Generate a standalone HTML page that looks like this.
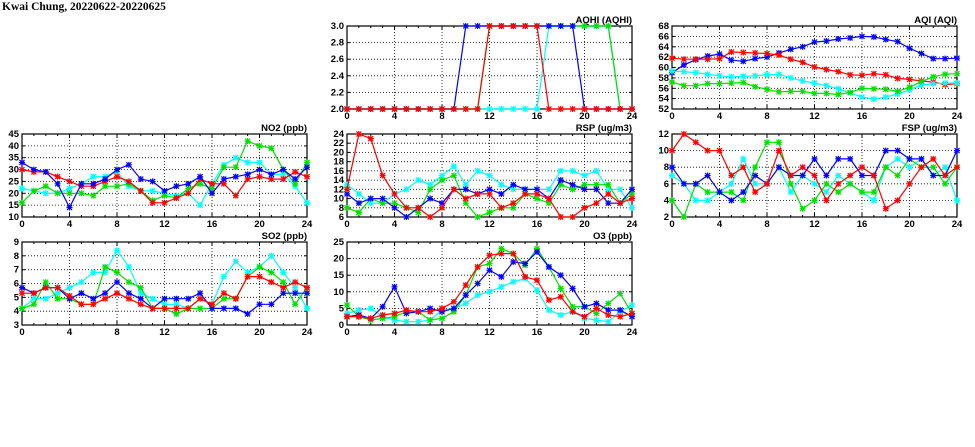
<!DOCTYPE html>
<html><head><meta charset="utf-8"><style>
html,body{margin:0;padding:0;background:#fff;width:975px;height:447px;overflow:hidden}
svg{display:block}
text{font-family:"Liberation Sans",sans-serif;font-weight:bold;fill:#000}
</style></head><body>
<svg id="s" width="975" height="447" xmlns="http://www.w3.org/2000/svg">
<text x="2" y="10" font-size="11.5" style="font-family:'Liberation Serif',serif;font-weight:bold">Kwai Chung, 20220622-20220625</text>
</svg>
<script>
const C={b:'#0000ff',r:'#ff0000',g:'#00e000',c:'#00ffff'};
const P=[
{t:'AQHI (AQHI)',x:347,y:26,lo:2,hi:3,step:0.2,dec:1,
 d:{b:[2,2,2,2,2,2,2,2,2,2,3,3,3,3,3,3,3,3,3,3,2,2,2,2,2],
    c:[2,2,2,2,2,2,2,2,2,2,2,2,2,2,2,2,2,3,3,3,3,3,3,2,2],
    g:[2,2,2,2,2,2,2,2,2,2,2,2,3,3,3,3,3,3,3,3,3,3,3,2,2],
    r:[2,2,2,2,2,2,2,2,2,2,2,2,3,3,3,3,3,2,2,2,2,2,2,2,2]},order:['c','g','b','r']},
{t:'AQI (AQI)',x:672,y:26,lo:52,hi:68,step:2,dec:0,
 d:{b:[59,60.5,61.5,62.2,62.6,61.4,61.2,61.7,62,62.8,63.5,64,64.9,65.1,65.5,65.7,66,65.9,65.4,65,63.7,62.7,61.7,61.7,61.8],
    r:[61.8,61.6,61.6,61.6,61.7,63,62.9,62.8,62.7,62.4,61.6,61,60.1,59.6,59.2,58.6,58.5,58.8,58.6,57.9,57.7,57.4,57.2,56.7,56.9],
    c:[59.3,59.2,59,58.7,58.4,58.2,58.3,58.4,58.6,58.7,58,57.4,57,56.5,55.9,55.1,54.3,53.9,54.3,54.9,55.7,56.6,56.9,57,57],
    g:[57.2,56.5,56.5,56.9,56.9,57,57.1,56.3,55.8,55.3,55.4,55.4,55,55,54.8,55.2,56,55.9,55.8,55.4,56.2,57.3,58.2,58.7,58.8]}},
{t:'NO2 (ppb)',x:22,y:134,lo:10,hi:45,step:5,dec:0,
 d:{c:[22,21,20,20,22,24,27,27,29,23,21,21,20,19,20,15,24,32,35,33,33,28,28,23,16],
    g:[16,21,23,20,20,20,19,23,23,24,21,17,19,18,22,24,22,31,31,42,40,39,30,24,33],
    r:[30,29,29,27,25,23,23,25,27,25,21,16,16,18,20,26,24,24,19,26,27,26,26,29,27],
    b:[33,30,29,24,14,24,24,26,30,32,26,25,21,23,24,27,20,26,27,28,30,28,30,26,31]}},
{t:'RSP (ug/m3)',x:347,y:134,lo:6,hi:24,step:2,dec:0,
 d:{c:[13,11,9,9,11,12,14,13,15,17,13,16,15,13,12,12,12,12,16,16,15,16,12,12,8],
    g:[8,7,10,9,9,8,7,12,14,15,9,6,7,8,8,11,10,9,13,12,13,13,13,9,11],
    b:[11,9,10,10,8,6,8,10,9,12,12,11,12,11,13,12,12,10,14,13,12,12,9,9,12],
    r:[12,24,23,15,11,8,8,6,8,12,10,11,11,8,9,11,11,10,6,6,8,9,11,9,10]}},
{t:'FSP (ug/m3)',x:672,y:134,lo:2,hi:12,step:2,dec:0,
 d:{c:[7,6,4,4,5,6,9,6,6,8,5,7,6,5,7,6,5,4,8,9,8,9,7,8,4],
    g:[4,2,6,5,5,5,4,8,11,11,6,3,4,6,5,6,5,5,8,7,9,8,8,6,8],
    b:[8,6,6,7,5,4,5,7,6,8,7,7,9,7,9,9,7,7,10,10,9,9,7,7,10],
    r:[10,12,11,10,10,7,8,5,6,10,7,8,7,4,6,7,8,7,3,4,6,8,9,7,8]}},
{t:'SO2 (ppb)',x:22,y:242,lo:3,hi:9,step:1,dec:0,
 d:{c:[4.2,4.9,4.9,5.3,5.7,6.1,6.8,6.8,8.4,7.2,5.3,4.9,4.5,4.5,4.2,4.9,4.5,6.5,7.6,6.8,7.2,8.0,6.8,5.7,4.2],
    g:[4.2,4.5,6.1,4.9,4.9,4.5,4.5,7.2,6.8,6.1,5.7,4.2,4.2,3.8,4.2,4.2,4.2,4.9,4.9,6.5,7.2,6.8,6.1,4.5,5.7],
    b:[5.7,5.3,5.7,5.7,4.9,5.3,4.9,5.3,6.1,5.3,4.9,4.2,4.9,4.9,4.9,5.3,4.2,4.2,4.2,3.8,4.5,4.5,5.3,5.3,5.3],
    r:[5.3,5.3,5.7,5.7,5.1,4.5,4.5,4.9,5.3,4.9,4.5,4.2,4.2,4.2,4.2,4.9,4.5,5.3,4.9,6.5,6.5,6.1,5.7,6.1,5.7]}},
{t:'O3 (ppb)',x:347,y:242,lo:0,hi:25,step:5,dec:0,
 d:{c:[3.5,4.5,5,2.5,1.5,1,1,1.5,4.5,5,6.5,9,10,11.5,13,14,10.5,4.5,3,4,2,1.5,1,4,6],
    g:[6,2.5,1.5,2,2.5,4,4,1.5,2,4,9,17.5,18.5,23,21.5,18,23,17.5,11,5.5,5.5,3.5,6.5,9.5,3.5],
    b:[2.5,3,2,5.5,11.5,3.5,4,5,4,5,9,12.5,16.5,14.5,19,18.5,22,17.5,15,11,5.5,6.5,4.5,4.5,2.5],
    r:[2.5,2.5,2,3,3.5,4.5,4,4,5,7,12,17.5,21,21.5,21.5,14.5,13.5,7.5,8.5,4,2.5,5,3,2.5,3.5]}}
];
const W=285,H=83;let h='';
for(const p of P){
 const X=i=>p.x+i*W/24, Y=v=>p.y+H-(v-p.lo)/(p.hi-p.lo)*H;
 h+=`<text x="${p.x+W}" y="${p.y-3}" font-size="9.5" text-anchor="end">${p.t}</text>`;
 for(let v=p.lo;v<=p.hi+1e-9;v+=p.step){const y=Y(v).toFixed(1);
  if(v>p.lo+1e-9&&v<p.hi-1e-9)h+=`<line x1="${p.x}" x2="${p.x+W}" y1="${y}" y2="${y}" stroke="#000" stroke-width="0.8" stroke-dasharray="1,2"/>`;
  h+=`<line x1="${p.x}" x2="${p.x+3}" y1="${y}" y2="${y}" stroke="#000"/><line x1="${p.x+W-3}" x2="${p.x+W}" y1="${y}" y2="${y}" stroke="#000"/>`;
  h+=`<text x="${p.x-3}" y="${(+y+3).toFixed(1)}" font-size="9.5" text-anchor="end">${v.toFixed(p.dec)}</text>`;}
 for(let i=0;i<=24;i++){const x=X(i).toFixed(1);
  if(i%4==0){if(i>0&&i<24)h+=`<line x1="${x}" x2="${x}" y1="${p.y}" y2="${p.y+H}" stroke="#000" stroke-width="0.8" stroke-dasharray="1,2"/>`;
   h+=`<text x="${x}" y="${p.y+H+10}" font-size="9.5" text-anchor="middle">${i}</text>`;
   h+=`<line x1="${x}" x2="${x}" y1="${p.y+H}" y2="${p.y+H-4}" stroke="#000"/><line x1="${x}" x2="${x}" y1="${p.y}" y2="${p.y+4}" stroke="#000"/>`;}
  else h+=`<line x1="${x}" x2="${x}" y1="${p.y+H}" y2="${p.y+H-2}" stroke="#000"/><line x1="${x}" x2="${x}" y1="${p.y}" y2="${p.y+2}" stroke="#000"/>`;}
 h+=`<rect x="${p.x}" y="${p.y}" width="${W}" height="${H}" fill="none" stroke="#000" stroke-width="1.2"/>`;
 for(const k of (p.order||Object.keys(p.d))){const a=p.d[k];
  h+=`<polyline fill="none" stroke="${C[k]}" stroke-width="1.2" points="${a.map((v,i)=>X(i).toFixed(1)+','+Y(v).toFixed(1)).join(' ')}"/>`;
  for(let i=0;i<a.length;i++){const x=X(i),y=Y(a[i]);
   h+=`<path d="M${x-2.5} ${y-2.5}L${x+2.5} ${y+2.5}M${x-2.5} ${y+2.5}L${x+2.5} ${y-2.5}M${x-3} ${y}H${x+3}M${x} ${y-3}V${y+3}" stroke="${C[k]}" stroke-width="1.2"/>`;}}
}
document.getElementById('s').insertAdjacentHTML('beforeend',h);
</script>
</body></html>
